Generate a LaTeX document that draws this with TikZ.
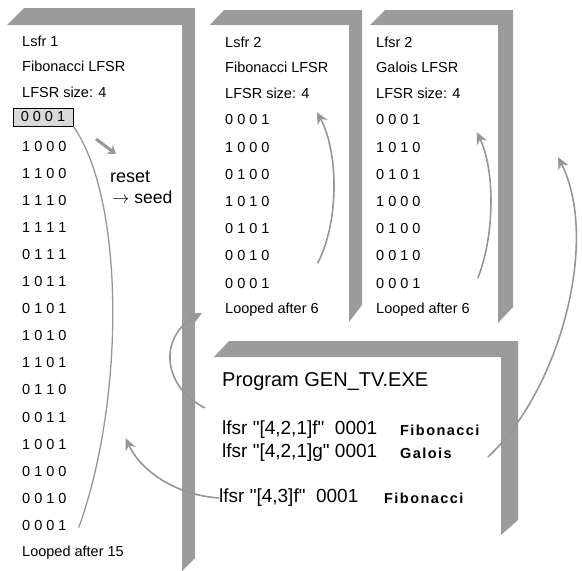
\documentclass[tikz,border=0pt]{standalone}
\usepackage{fontspec}
\setmainfont{Liberation Sans}[Ligatures=TeXOff]
\usetikzlibrary{arrows.meta}
\definecolor{rimgray}{RGB}{155,155,155}
\definecolor{linkgray}{RGB}{150,150,150}

\begin{document}
\begin{tikzpicture}[x=1pt,y=1pt,>=Stealth,
  rim/.style={fill=rimgray,draw=none},
  txt/.style={anchor=west,inner sep=0pt,font=\fontsize{14.5}{16}\selectfont},
  big/.style={anchor=west,inner sep=0pt,font=\fontsize{19}{21}\selectfont},
  tag/.style={anchor=west,inner sep=0pt,font=\fontsize{14.5}{16}\selectfont\bfseries\addfontfeature{LetterSpace=10}},
  seedbox/.style={draw=black,line width=0.8pt,fill=gray!30,minimum width=60pt,minimum height=18pt,inner sep=0pt,font=\fontsize{14.5}{16}\selectfont},
  link/.style={draw=linkgray,line width=1.6pt,-{Stealth[length=12pt,width=11pt,fill=linkgray]}}]
  \useasboundingbox (0,0) rectangle (582,-571);

  % window frames
  \fill[rim] (7,-25) -- (24,-8) -- (195,-8) -- (195,-558) -- (182,-571) -- (182,-25) -- cycle;
  \fill[rim] (210,-25) -- (224,-10) -- (362,-10) -- (362,-305) -- (349,-322) -- (349,-25) -- cycle;
  \fill[rim] (370,-25) -- (385,-10) -- (513,-10) -- (513,-307) -- (498,-323) -- (498,-25) -- cycle;
  \fill[rim] (214,-357) -- (229,-341) -- (518,-341) -- (518,-520) -- (501,-535) -- (501,-357) -- cycle;

  % Lsfr 1
  \node[txt] (a-name) at (22,-41) {Lsfr 1};
  \node[txt] (a-kind) at (22,-66) {Fibonacci LFSR};
  \node[txt] (a-size) at (22,-92) {LFSR size: 4};
  \node[seedbox] (a0) at (43,-117) {0 0 0 1};
  \foreach \bits [count=\i] in {1 0 0 0,1 1 0 0,1 1 1 0,1 1 1 1,0 1 1 1,1 0 1 1,0 1 0 1,
      1 0 1 0,1 1 0 1,0 1 1 0,0 0 1 1,1 0 0 1,0 1 0 0,0 0 1 0,0 0 0 1}
    \node[txt] (a\i) at (22,-119-27.1*\i) {\bits};
  \node[txt] (a-end) at (22,-553) {Looped after 15};
  \node[txt,font=\fontsize{18}{20}\selectfont] (reset) at (110,-177) {reset};
  \node[txt,font=\fontsize{17.5}{20}\selectfont] (seed) at (112,-197) {\(\rightarrow\) seed};

  % Lsfr 2, Fibonacci
  \node[txt] (b-name) at (225,-42) {Lsfr 2};
  \node[txt] (b-kind) at (225,-67) {Fibonacci LFSR};
  \node[txt] (b-size) at (225,-93) {LFSR size: 4};
  \foreach \bits [count=\i from 0] in {0 0 0 1,1 0 0 0,0 1 0 0,1 0 1 0,0 1 0 1,0 0 1 0,0 0 0 1}
    \node[txt] (b\i) at (225,-120-27.2*\i) {\bits};
  \node[txt] (b-end) at (225,-310) {Looped after 6};

  % Lsfr 2, Galois
  \node[txt] (c-name) at (376,-42) {Lfsr 2};
  \node[txt] (c-kind) at (376,-67) {Galois LFSR};
  \node[txt] (c-size) at (376,-93) {LFSR size: 4};
  \foreach \bits [count=\i from 0] in {0 0 0 1,1 0 1 0,0 1 0 1,1 0 0 0,0 1 0 0,0 0 1 0,0 0 0 1}
    \node[txt] (c\i) at (376,-120-27.2*\i) {\bits};
  \node[txt] (c-end) at (376,-310) {Looped after 6};

  % GEN_TV
  \node[big,font=\fontsize{20}{22}\selectfont] (prog) at (222,-382) {Program GEN\_TV.EXE};
  \node[big] (l1) at (222,-430) {lfsr "[4,2,1]f"\ \ 0001};
  \node[tag] (t1) at (400,-430) {Fibonacci};
  \node[big] (l2) at (222,-453) {lfsr "[4,2,1]g" 0001};
  \node[tag] (t2) at (400,-453) {Galois};
  \node[big] (l3) at (219,-498) {lfsr "[4,3]f"\ \ 0001};
  \node[tag] (t3) at (384,-498) {Fibonacci};
  \coordinate (g-in) at (558,-157);
  \coordinate (rs-from) at (96,-139);
  \coordinate (rs-to) at (116,-154);

  % links
  \draw[link,-,line width=1.3pt] ([xshift=12pt,yshift=-2pt]a15.east) .. controls (125,-400) and (125,-200) .. (a0.south east);
  \draw[link,line width=3pt,-{Stealth[length=8pt,width=11pt,fill=linkgray]}] (rs-from) -- (rs-to);
  \draw[link] ([xshift=48pt,yshift=-7pt]b5.east) .. controls (340,-220) and (338,-150) .. ([xshift=7pt,yshift=-19pt]b-size.east);
  \draw[link] ([xshift=57pt,yshift=5pt]c6.east) .. controls (495,-235) and (495,-170) .. ([xshift=16pt,yshift=-39pt]c-size.east);
  \draw[link] ([xshift=36pt,yshift=-4pt]t2.east) .. controls (560,-390) and (600,-240) .. (g-in);
  \draw[link] ([xshift=-17pt,yshift=22pt]l1.west) .. controls (160,-385) and (160,-335) .. ([xshift=-23pt,yshift=-3pt]b-end.west);
  \draw[link] (l3.west) .. controls (175,-495) and (140,-470) .. ([xshift=59pt,yshift=6pt]a12.east);
\end{tikzpicture}
\end{document}
